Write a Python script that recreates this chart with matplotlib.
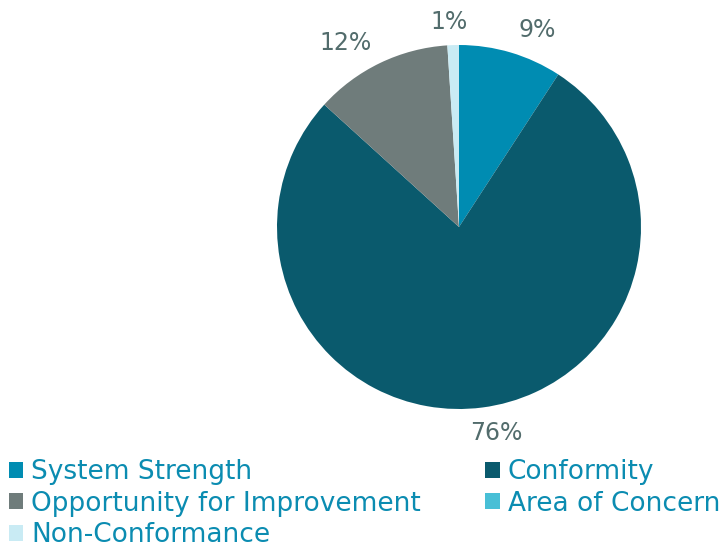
import numpy as np
import matplotlib
matplotlib.use("Agg")
import matplotlib.pyplot as plt
from matplotlib.patches import Patch

categories = ["System Strength", "Conformity", "Opportunity for Improvement",
              "Area of Concern", "Non-Conformance"]
percent = [9, 76, 12, 0, 1]
colors = ["#008cb2", "#0a5a6d", "#6f7c7b", "#48bfd6", "#c9ebf4"]

# label distance from centre (in radii) and small angular nudge per slice
label_dist = [1.165, 1.15, 1.19, None, 1.13]
label_nudge = [-5, 3, 6, 0, 1]

LABEL_COLOR = "#526c6c"
LEGEND_COLOR = "#0b8cb1"

plt.rcParams["font.family"] = ["DejaVu Sans"]

fig = plt.figure(figsize=(7.2, 5.48), dpi=100)
ax = fig.add_axes([277 / 720, 139 / 548, 364 / 720, 364 / 548])
wedges, _ = ax.pie(percent, colors=colors, startangle=90, counterclock=False,
                   radius=1.0, wedgeprops=dict(linewidth=0))
ax.set_xlim(-1, 1)
ax.set_ylim(-1, 1)
ax.set_aspect("equal")
ax.axis("off")

total = sum(percent)
cum = 0
for val, d, nudge in zip(percent, label_dist, label_nudge):
    if val > 0:
        mid = 90 - (cum + val / 2) / total * 360 + nudge
        ax.text(d * np.cos(np.radians(mid)), d * np.sin(np.radians(mid)), f"{val}%",
                ha="center", va="center", fontsize=17, color=LABEL_COLOR,
                clip_on=False)
    cum += val

# legend reads row by row; matplotlib fills columns first, so reorder
order = [0, 2, 4, 1, 3]
handles = [Patch(facecolor=colors[i], edgecolor="none") for i in order]
labels = [categories[i] for i in order]
leg = fig.legend(handles, labels, ncol=2, loc="lower left",
                 bbox_to_anchor=(0.012, 0.0, 0.988, 0.2), mode="expand",
                 frameon=False, fontsize=19, handlelength=0.55, handleheight=0.55,
                 handletextpad=0.3, labelspacing=0.2, borderaxespad=0.0,
                 borderpad=0.0)
for t in leg.get_texts():
    t.set_color(LEGEND_COLOR)

fig.savefig("out.png", dpi=100)
